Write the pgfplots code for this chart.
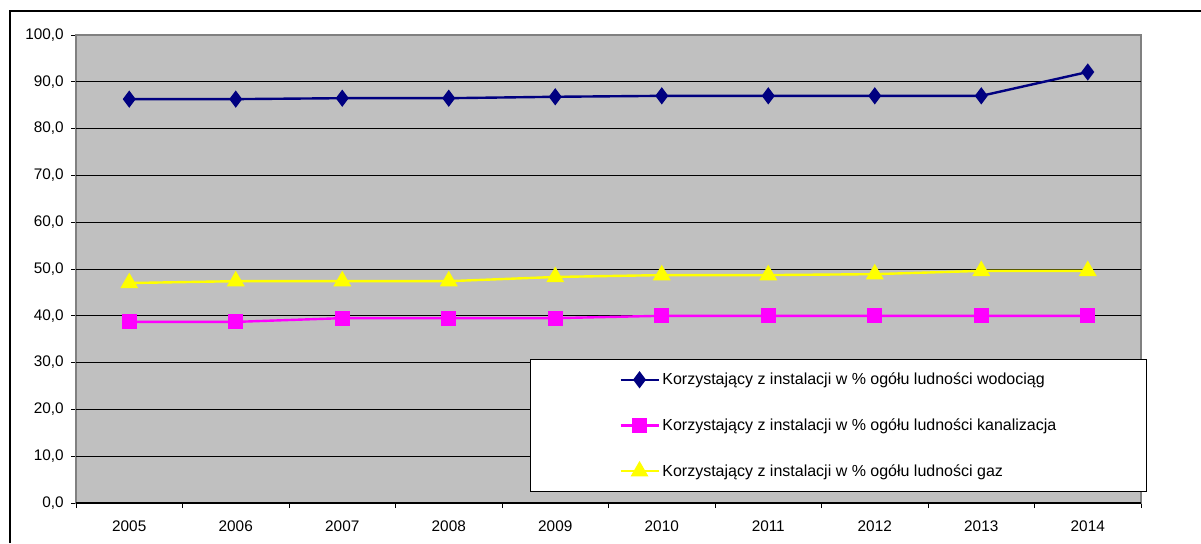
\documentclass[border=0pt]{standalone}
\usepackage{fontspec}
\setmainfont{Liberation Sans}
\usepackage{pgfplots}
\pgfplotsset{compat=1.18}

\definecolor{plotgray}{RGB}{192,192,192}
\definecolor{navyline}{RGB}{0,0,128}
\definecolor{magline}{RGB}{255,0,255}
\definecolor{yelline}{RGB}{255,255,0}

\begin{document}
\begin{tikzpicture}[x=1pt,y=1pt]
% image is 1201 x 543 px, 1 px = 0.75 pt
\useasboundingbox (0,0) rectangle (900.75,-407.25);
\draw[line width=1.1pt] (7.5,-407.25) -- (7.5,-8.25) -- (900.75,-8.25);

\begin{axis}[
  at={(57pt,-377.25pt)}, anchor=south west,
  scale only axis,
  width=798.75pt, height=351pt,
  font=\fontsize{11.5}{13.8}\selectfont,
  /pgf/number format/assume math mode=true,
  axis background/.style={fill=plotgray},
  axis line style={draw=black!50, line width=1.2pt},
  clip=false,
  xmin=-0.5, xmax=9.5,
  ymin=0, ymax=100,
  xtick={0,...,9},
  xticklabels={2005,2006,2007,2008,2009,2010,2011,2012,2013,2014},
  minor xtick={-0.5,0.5,...,9.5},
  xtick pos=bottom, ytick pos=left,
  tick align=outside,
  x tick style={draw=none},
  minor x tick style={draw=black, line width=0.6pt},
  minor tick length=3.75pt,
  ytick={0,10,...,100},
  y tick style={draw=black, line width=0.6pt},
  major tick length=3.75pt,
  yticklabel={\pgfmathprintnumber[fixed,fixed zerofill,precision=1,use comma]{\tick}},
  yticklabel style={xshift=-2pt},
  xticklabel style={yshift=-6pt},
  extra y ticks={10,20,...,90},
  extra y tick labels={},
  extra y tick style={grid=major, major tick length=0pt},
  grid style={black, line width=0.6pt},
  legend style={
    at={(axis description cs:0.5099,0.1656)}, anchor=west,
    draw=none, fill=none, inner sep=0pt,
    row sep=20pt,
    cells={anchor=west},
    font=\fontsize{12}{14.4}\selectfont,
  },
  legend image code/.code={
    \draw[mark repeat=2,mark phase=2] plot coordinates {(0pt,0pt) (14.25pt,0pt) (28.5pt,0pt)};
  },
]
% legend box (white, covers the grid)
\filldraw[fill=white, draw=black, line width=0.6pt]
  (axis description cs:0.4263,0.3077) rectangle (axis description cs:1.0047,0.0256);

\addplot[navyline, line width=1.8pt, mark=diamond*, mark size=5pt,
  mark options={solid, fill=navyline}] coordinates {
  (0,86.3) (1,86.3) (2,86.5) (3,86.5) (4,86.8) (5,87.0) (6,87.0) (7,87.0) (8,87.0) (9,92.1)
};
\addlegendentry{Korzystający z instalacji w \% ogółu ludności wodociąg}

\addplot[magline, line width=1.8pt, mark=square*, mark size=4.8pt,
  mark options={solid, fill=magline}] coordinates {
  (0,38.7) (1,38.7) (2,39.5) (3,39.5) (4,39.5) (5,40.0) (6,40.0) (7,40.0) (8,40.0) (9,40.0)
};
\addlegendentry{Korzystający z instalacji w \% ogółu ludności kanalizacja}

\addplot[yelline, line width=1.8pt, mark=triangle*, mark size=6pt,
  mark options={solid, fill=yelline}] coordinates {
  (0,47.0) (1,47.4) (2,47.4) (3,47.4) (4,48.3) (5,48.7) (6,48.7) (7,48.9) (8,49.6) (9,49.6)
};
\addlegendentry{Korzystający z instalacji w \% ogółu ludności gaz}

\draw[black, line width=0.8pt] (axis description cs:0,0) -- (axis description cs:1,0);
\end{axis}
\end{tikzpicture}
\end{document}
